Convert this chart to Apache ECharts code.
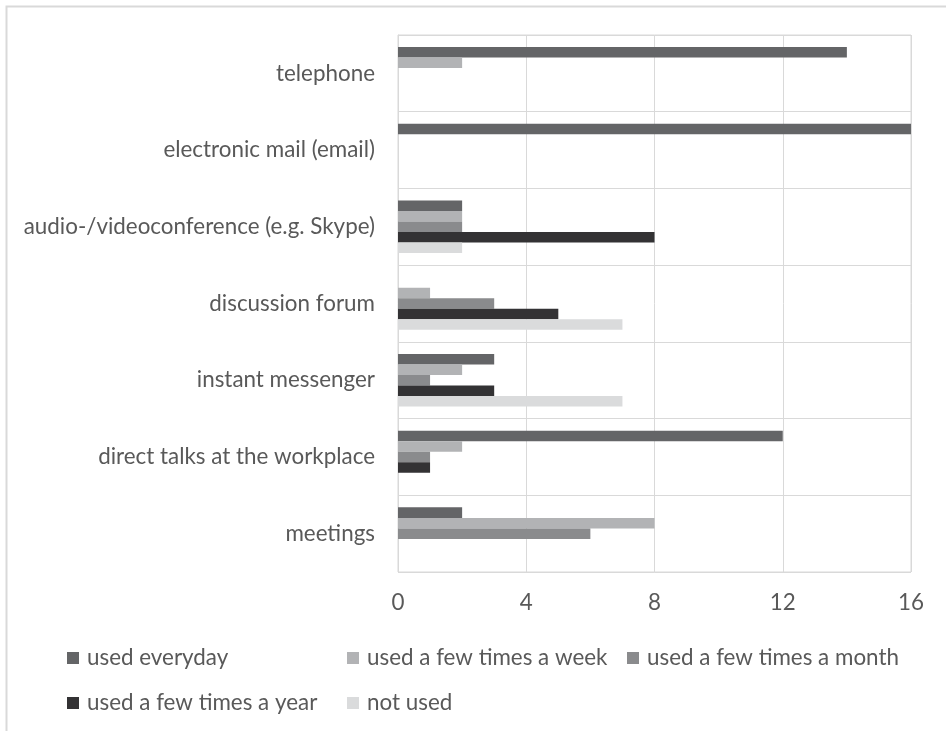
<!DOCTYPE html>
<html>
<head>
<meta charset="utf-8">
<script src="https://cdn.jsdelivr.net/npm/echarts@6/dist/echarts.min.js"></script>
<style>
html,body{margin:0;padding:0;background:#fff;}
#chart{width:946px;height:731px;}
</style>
</head>
<body>
<div id="chart"></div>
<script>
const categories = ['telephone', 'electronic mail (email)', 'audio-/videoconference (e.g. Skype)', 'discussion forum', 'instant messenger', 'direct talks at the workplace', 'meetings'];
const seriesNames = ['used everyday', 'used a few times a week', 'used a few times a month', 'used a few times a year', 'not used'];
const usedEveryday = [14, 16, 2, 0, 3, 12, 2];
const usedWeekly = [2, 0, 2, 1, 2, 2, 8];
const usedMonthly = [0, 0, 2, 3, 1, 1, 6];
const usedYearly = [0, 0, 8, 5, 3, 1, 0];
const notUsed = [0, 0, 2, 7, 7, 0, 0];
const xTicks = [0, 4, 8, 12, 16];

const seriesValues = [usedEveryday, usedWeekly, usedMonthly, usedYearly, notUsed];
const colors = ['#646567', '#b2b3b5', '#8a8b8d', '#333234', '#dadbdc'];
const FONT = 'Lato';
// fit font size to the widest category label width seen in reference
const cv = document.createElement('canvas').getContext('2d');
cv.font = '100px ' + FONT;
const w100 = cv.measureText('audio-/videoconference (e.g. Skype)').width;
const fs = Math.round(100 * 352 / w100 * 10) / 10;
const textColor = '#595959';

const legendPos = [
  {left: 67, top: 653}, {left: 347, top: 653}, {left: 627, top: 653},
  {left: 67, top: 698}, {left: 347, top: 698}
];

const chart = echarts.init(document.getElementById('chart'), null, {renderer: 'canvas'});
chart.setOption({
  backgroundColor: '#ffffff',
  animation: false,
  textStyle: {fontFamily: FONT},
  grid: {left: 398, right: 35, top: 35, bottom: 159, show: true, borderColor: '#d9d9d9', borderWidth: 1},
  graphic: [{
    type: 'rect', left: 4, top: 4, silent: true,
    shape: {x: 0, y: 0, width: 1000, height: 1000},
    style: {fill: 'none', stroke: '#d9d9d9', lineWidth: 2}
  }],
  xAxis: {
    type: 'value', min: xTicks[0], max: xTicks[xTicks.length - 1], interval: xTicks[1] - xTicks[0],
    axisLine: {show: false}, axisTick: {show: false},
    splitLine: {show: true, lineStyle: {color: '#d9d9d9', width: 1}},
    axisLabel: {color: textColor, fontSize: fs, fontFamily: FONT, margin: 20}
  },
  yAxis: {
    type: 'category', data: categories, inverse: true,
    axisLine: {show: true, lineStyle: {color: '#d9d9d9'}}, axisTick: {show: false},
    splitLine: {show: true, lineStyle: {color: '#d9d9d9', width: 1}},
    axisLabel: {color: textColor, fontSize: fs, fontFamily: FONT, margin: 23}
  },
  legend: seriesNames.map((n, i) => ({
    data: [n], left: legendPos[i].left, top: legendPos[i].top - 6,
    orient: 'horizontal', icon: 'rect', itemWidth: 12, itemHeight: 12, padding: 0,
    selectedMode: false,
    textStyle: {color: textColor, fontSize: fs, fontFamily: FONT, lineHeight: 12, padding: [0, 0, 0, 3]}
  })),
  series: seriesNames.map((n, i) => ({
    name: n, type: 'bar', data: seriesValues[i],
    barGap: '0%', barCategoryGap: '31.5%',
    itemStyle: {color: colors[i]},
    emphasis: {disabled: true}
  }))
});
</script>
</body>
</html>
